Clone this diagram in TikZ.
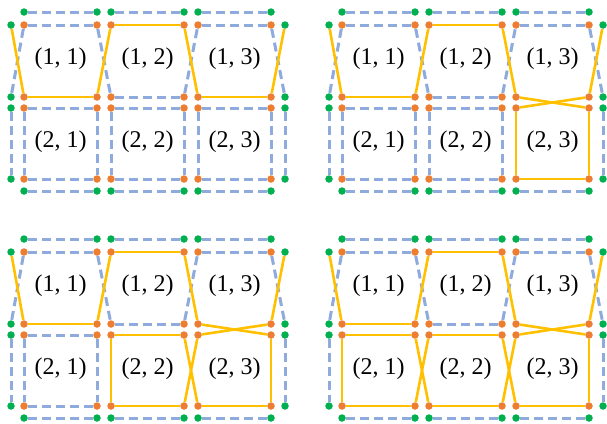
\documentclass[tikz,border=0pt]{standalone}
\usepackage{fontspec}
\setmainfont{Liberation Serif}

\definecolor{dotorange}{HTML}{ED7D31}
\definecolor{dotgreen}{HTML}{00B050}
\definecolor{linkblue}{HTML}{8FAADC}
\definecolor{loopgold}{HTML}{FFC000}

\begin{document}
\begin{tikzpicture}[x=1pt, y=-1pt]
\tikzstyle{odot}=[circle, fill=dotorange, inner sep=0pt, minimum size=7.5pt]
\tikzstyle{gdot}=[circle, fill=dotgreen, inner sep=0pt, minimum size=7.5pt]
\tikzstyle{cellname}=[inner sep=0pt, font=\fontsize{24}{28}\selectfont]
\tikzstyle{blueline}=[draw=linkblue, line width=3pt, dash pattern=on 9pt off 5pt]
\tikzstyle{orangeline}=[draw=loopgold, line width=2.6pt]

\useasboundingbox (0,0) rectangle (607,423);

% dots and labels, the same in all four panels
\foreach \p/\ox/\oy in {A/0/0, B/318/0, C/0/227, D/318/227} {
\begin{scope}[shift={(\ox,\oy)}, name prefix=\p-]
  \foreach \r/\yt/\yb in {1/25/97, 2/108/179} {
    \foreach \c/\xl/\xr in {1/24/97, 2/111/184, 3/198/271} {
      \node[odot] (o\r\c tl) at (\xl,\yt) {};
      \node[odot] (o\r\c tr) at (\xr,\yt) {};
      \node[odot] (o\r\c bl) at (\xl,\yb) {};
      \node[odot] (o\r\c br) at (\xr,\yb) {};
      \node[cellname] (l\r\c) at ({(\xl+\xr)/2},{(\yt+\yb)/2-2}) {(\r, \c)};
    }
    \node[gdot] (gl\r t) at (11,\yt) {};
    \node[gdot] (gl\r b) at (11,\yb) {};
    \node[gdot] (gr\r t) at (285,\yt) {};
    \node[gdot] (gr\r b) at (285,\yb) {};
  }
  \foreach \c/\xl/\xr in {1/24/97, 2/111/184, 3/198/271} {
    \node[gdot] (gt\c l) at (\xl,12) {};
    \node[gdot] (gt\c r) at (\xr,12) {};
    \node[gdot] (gb\c l) at (\xl,191) {};
    \node[gdot] (gb\c r) at (\xr,191) {};
  }
\end{scope}
}

% dashed links every panel has
\foreach \p in {A,B,C,D} {
\begin{scope}[name prefix=\p-]
  \foreach \m/\n in {gt1l/gt1r, gt2l/gt2r, gt3l/gt3r, gb1l/gb1r, gb2l/gb2r, gb3l/gb3r,
      gl2t/gl2b, gr2t/gr2b, o11tl/gl1b, o11tl/o11tr, o11tr/o12bl, o12bl/o12br,
      o12br/o13tl, o13tl/o13tr, o13tr/gr1b}
    \draw[blueline] (\m) -- (\n);
\end{scope}
}

% panel A
\begin{scope}[name prefix=A-]
  \foreach \m/\n in {o23tl/o23tr, o21tl/o21tr, o22tl/o22tr, o21tl/o21bl, o21bl/o21br,
      o21tr/o21br, o22tl/o22bl, o22bl/o22br, o22tr/o22br, o23tl/o23bl, o23bl/o23br, o23tr/o23br}
    \draw[blueline] (\m) -- (\n);
  \draw[orangeline] (o13bl) -- (o13br);
\end{scope}

% panel B
\begin{scope}[name prefix=B-]
  \foreach \m/\n in {o21tl/o21tr, o22tl/o22tr, o21tl/o21bl, o21bl/o21br, o21tr/o21br,
      o22tl/o22bl, o22bl/o22br, o22tr/o22br}
    \draw[blueline] (\m) -- (\n);
  \foreach \m/\n in {o13bl/o23tr, o23tl/o13br, o23tl/o23bl, o23bl/o23br, o23tr/o23br}
    \draw[orangeline] (\m) -- (\n);
\end{scope}

% panel C
\begin{scope}[name prefix=C-]
  \foreach \m/\n in {o21tl/o21tr, o21tl/o21bl, o21bl/o21br, o21tr/o21br}
    \draw[blueline] (\m) -- (\n);
  \foreach \m/\n in {o13bl/o23tr, o23tl/o13br, o22tl/o22tr, o22tl/o22bl, o22bl/o22br,
      o22tr/o23bl, o22br/o23tl, o23bl/o23br, o23tr/o23br}
    \draw[orangeline] (\m) -- (\n);
\end{scope}

% panel D
\begin{scope}[name prefix=D-]
  \foreach \m/\n in {o13bl/o23tr, o23tl/o13br, o21tl/o21tr, o21tl/o21bl, o21bl/o21br,
      o21tr/o22bl, o21br/o22tl, o22tl/o22tr, o22bl/o22br, o22tr/o23bl, o22br/o23tl,
      o23bl/o23br, o23tr/o23br}
    \draw[orangeline] (\m) -- (\n);
\end{scope}

% loop through the first row, every panel
\foreach \p in {A,B,C,D} {
\begin{scope}[name prefix=\p-]
  \foreach \m/\n in {gl1t/o11bl, o11bl/o11br, o11br/o12tl, o12tl/o12tr, o12tr/o13bl, o13br/gr1t}
    \draw[orangeline] (\m) -- (\n);
\end{scope}
}
\end{tikzpicture}
\end{document}
